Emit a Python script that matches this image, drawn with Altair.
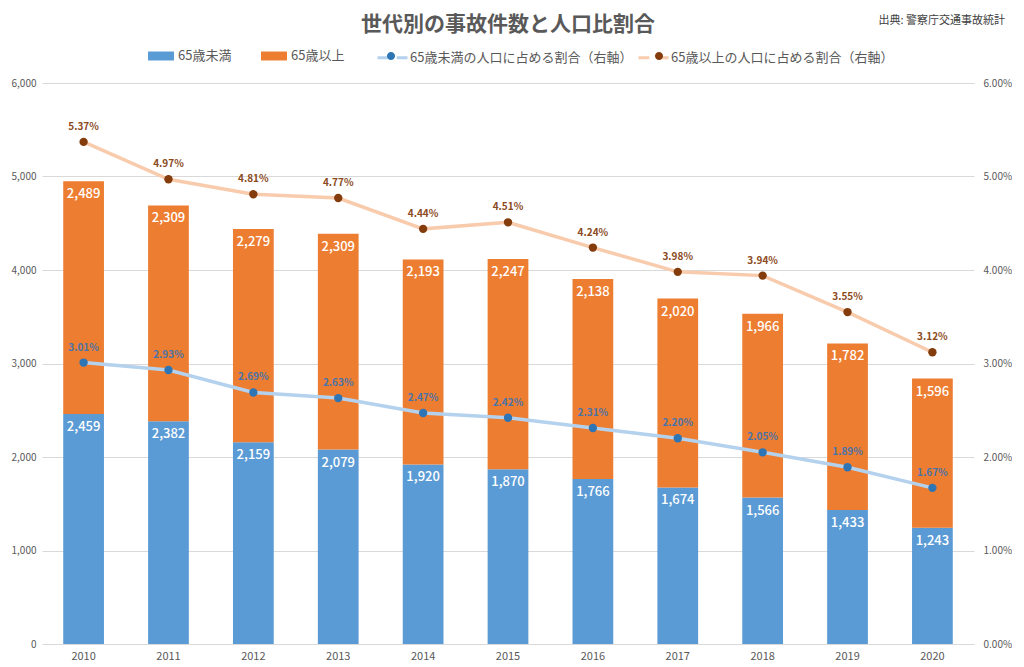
import altair as alt
import pandas as pd

years = ["2010", "2011", "2012", "2013", "2014", "2015", "2016", "2017", "2018", "2019", "2020"]
under65 = [2459, 2382, 2159, 2079, 1920, 1870, 1766, 1674, 1566, 1433, 1243]
over65 = [2489, 2309, 2279, 2309, 2193, 2247, 2138, 2020, 1966, 1782, 1596]
rate_under = [3.01, 2.93, 2.69, 2.63, 2.47, 2.42, 2.31, 2.20, 2.05, 1.89, 1.67]
rate_over = [5.37, 4.97, 4.81, 4.77, 4.44, 4.51, 4.24, 3.98, 3.94, 3.55, 3.12]

bar_cats = ["65歳未満", "65歳以上"]
line_cats = ["65歳未満の人口に占める割合（右軸）", "65歳以上の人口に占める割合（右軸）"]
dot_keys = ["u", "o"]

FONT = "Noto Sans CJK JP"
GRAY = "#595959"

rows = []
for i, y in enumerate(years):
    rows.append({"year": y, "cat": bar_cats[0], "start": 0, "end": under65[i], "val": under65[i]})
    rows.append({"year": y, "cat": bar_cats[1], "start": under65[i], "end": under65[i] + over65[i], "val": over65[i]})
bars_df = pd.DataFrame(rows)

lrows = []
for i, y in enumerate(years):
    lrows.append({"year": y, "series": line_cats[0], "key": dot_keys[0], "rate": rate_under[i] / 100})
    lrows.append({"year": y, "series": line_cats[1], "key": dot_keys[1], "rate": rate_over[i] / 100})
lines_df = pd.DataFrame(lrows)

xenc = alt.X("year:N", title=None,
             scale=alt.Scale(paddingInner=0.52, paddingOuter=0.25),
             axis=alt.Axis(labelAngle=0, labelColor=GRAY, labelFontSize=11, labelFont=FONT,
                           ticks=False, domain=False, labelPadding=6))

bar_legend_path = "M-0.93,-0.32H0.93V0.32H-0.93Z"
line_only_path = "M-1,0H-0.28M0.28,0H1"
dot_path = "M0.27,0A0.27,0.27,0,1,1,-0.27,0A0.27,0.27,0,1,1,0.27,0Z"

common_leg = dict(orient="none", direction="horizontal", labelFontSize=13,
                  labelFont=FONT, labelLimit=400, title=None)

bar_color = alt.Color("cat:N", title=None,
                      scale=alt.Scale(domain=bar_cats, range=["#5B9BD5", "#ED7D31"]),
                      legend=alt.Legend(legendX=105, legendY=-41, symbolType=bar_legend_path,
                                        symbolSize=784, symbolStrokeWidth=0, columnPadding=28,
                                        labelColor=GRAY, labelOffset=3, **common_leg))

yaxis_left = alt.Axis(values=[0, 1000, 2000, 3000, 4000, 5000, 6000],
                      labelExpr="format(datum.value, ',')",
                      labelColor=GRAY, labelFontSize=10, labelFont=FONT,
                      ticks=False, domain=False, gridColor="#D9D9D9", gridWidth=1,
                      labelPadding=6, minExtent=34, maxExtent=34, title=None)

bars = alt.Chart(bars_df).mark_bar().encode(
    x=xenc,
    y=alt.Y("start:Q", title=None, scale=alt.Scale(domain=[0, 6000]), axis=yaxis_left),
    y2="end:Q",
    color=bar_color
)

bar_labels = alt.Chart(bars_df).mark_text(
    color="white", fontSize=13, font=FONT, fontWeight=500, baseline="middle", dy=13
).encode(
    x="year:N",
    y=alt.Y("end:Q", title=None, scale=alt.Scale(domain=[0, 6000]), axis=yaxis_left),
    text=alt.Text("val:Q", format=",")
)

left = alt.layer(bars, bar_labels)

yaxis_right = alt.Axis(orient="right", values=[0, 0.01, 0.02, 0.03, 0.04, 0.05, 0.06], format=".2%",
                       labelColor=GRAY, labelFontSize=10, labelFont=FONT,
                       ticks=False, domain=False, grid=False, labelPadding=9, title=None)

stroke_enc = alt.Stroke("series:N", title=None,
                        scale=alt.Scale(domain=line_cats, range=["#B4D2EE", "#F8CBAD"]),
                        legend=alt.Legend(legendX=334, legendY=-42, symbolType=line_only_path,
                                          symbolSize=900, symbolStrokeWidth=3, columnPadding=-1,
                                          labelColor=GRAY, labelOffset=1, **common_leg))
fill_enc = alt.Fill("key:N", title=None,
                    scale=alt.Scale(domain=dot_keys, range=["#2E75B6", "#843C0C"]),
                    legend=alt.Legend(legendX=334, legendY=-42, symbolType=dot_path,
                                      symbolSize=900, symbolStrokeWidth=0, columnPadding=237,
                                      labelColor=GRAY, labelOffset=1,
                                      labelExpr="''", **common_leg))

lines = alt.Chart(lines_df).mark_line(strokeWidth=3.5).encode(
    x="year:N",
    y=alt.Y("rate:Q", title=None, scale=alt.Scale(domain=[0, 0.06]), axis=yaxis_right),
    stroke=stroke_enc, detail="series:N"
)

points = alt.Chart(lines_df).mark_point(filled=True, size=70, opacity=1).encode(
    x="year:N",
    y=alt.Y("rate:Q", title=None, scale=alt.Scale(domain=[0, 0.06]), axis=yaxis_right),
    fill=fill_enc
)

line_labels = alt.Chart(lines_df).mark_text(
    fontSize=10, font=FONT, fontWeight="bold", baseline="middle", dy=-15
).encode(
    x="year:N",
    y=alt.Y("rate:Q", title=None, scale=alt.Scale(domain=[0, 0.06]), axis=yaxis_right),
    text=alt.Text("rate:Q", format=".2%"),
    color=alt.Color("series:N", scale=alt.Scale(domain=line_cats, range=["#4A74A8", "#8B4A1C"]), legend=None)
)

right = alt.layer(lines, points, line_labels)

source = alt.Chart(pd.DataFrame({"t": ["出典: 警察庁交通事故統計"]})).mark_text(
    align="right", baseline="middle", fontSize=11, font=FONT, color="#404040"
).encode(x=alt.value(1005 - 42), y=alt.value(20 - 82), text="t:N")

chart = alt.layer(left, right, source).resolve_scale(
    y="independent", color="independent"
).properties(
    width=932, height=561,
    title=alt.Title("世代別の事故件数と人口比割合", fontSize=21, font=FONT, fontWeight="bold",
                    color=GRAY, anchor="middle", offset=-20),
    padding={"left": 0, "top": 6, "right": 0, "bottom": 5}
).configure_view(stroke=None)

chart.save("out.html", embed_options={"renderer": "svg", "actions": False})
